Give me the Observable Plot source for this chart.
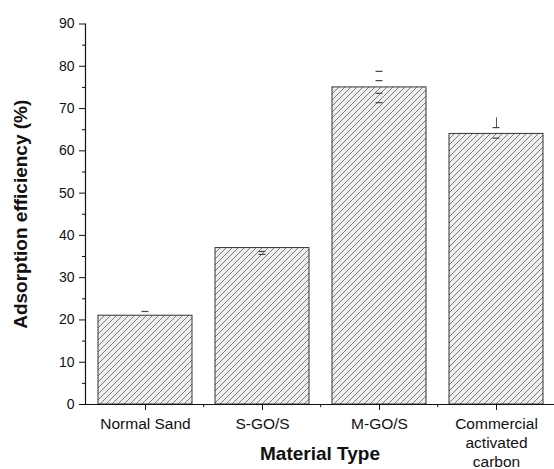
<!DOCTYPE html>
<html>
<head>
<meta charset="utf-8">
<script src="https://cdn.jsdelivr.net/npm/d3@7"></script>
<script src="https://cdn.jsdelivr.net/npm/@observablehq/plot@0.6"></script>
<style>
  html, body { margin: 0; padding: 0; background: #fff; }
  svg { display: block; }
</style>
</head>
<body>
<div id="chart"></div>
<script>
// ---- data ----
const categories = ["Normal Sand", "S-GO/S", "M-GO/S", "Commercial\nactivated\ncarbon"];
const values = [21, 37, 75, 64];
// error-bar cap positions
const capCategory = ["Normal Sand", "S-GO/S", "S-GO/S", "M-GO/S", "M-GO/S", "M-GO/S", "M-GO/S", "Commercial\nactivated\ncarbon", "Commercial\nactivated\ncarbon"];
const capValue = [22, 36.2, 35.5, 78.8, 76.6, 73.6, 71.4, 65.5, 63];
const whiskerCategory = ["Commercial\nactivated\ncarbon"];
const whiskerLow = [65.5];
const whiskerHigh = [67.8];
const yMajorTicks = [0, 10, 20, 30, 40, 50, 60, 70, 80, 90];
const yMinorTicks = [5, 15, 25, 35, 45, 55, 65, 75, 85];
const xLabel = "Material Type";
const yLabel = "Adsorption efficiency (%)";

const bars = categories.map((c, i) => ({cat: c, v: values[i]}));
const caps = capCategory.map((c, i) => ({cat: c, v: capValue[i]}));
const whiskers = whiskerCategory.map((c, i) => ({cat: c, lo: whiskerLow[i], hi: whiskerHigh[i]}));

const W = 554, H = 469;
const mL = 85, mT = 23.5, mB = 65;
const xRange = [mL, 555.5];
const step = (xRange[1] - xRange[0]) / categories.length;
const bandwidth = step * 0.8;
const capW = 7;
const font = "'Liberation Sans', Arial, sans-serif";

const plot = Plot.plot({
  width: W,
  height: H,
  marginLeft: mL,
  marginRight: 0,
  marginTop: mT,
  marginBottom: mB,
  style: {fontFamily: font, background: "#fff", color: "#111"},
  x: {domain: categories, range: xRange, paddingInner: 0.2, paddingOuter: 0.1, axis: null},
  y: {domain: [0, 90], axis: null},
  marks: [
    Plot.barY(bars, {x: "cat", y: "v", fill: "url(#hatch)", stroke: "#333", strokeWidth: 1}),
    Plot.tickY(caps, {x: "cat", y: "v", stroke: "#444", strokeWidth: 1.2,
      insetLeft: (bandwidth - capW) / 2, insetRight: (bandwidth - capW) / 2}),
    Plot.ruleX(whiskers, {x: "cat", y1: "lo", y2: "hi", stroke: "#555", strokeWidth: 1}),
    // axes
    Plot.axisY({ticks: yMajorTicks, tickSize: 6, tickPadding: 5, fontSize: 14, label: null, stroke: "#111"}),
    Plot.axisY({ticks: yMinorTicks, tickSize: 3, text: null, label: null}),
    Plot.axisX({tickSize: 6, tickPadding: 5, fontSize: 15.5, lineHeight: 1.22, label: null}),
    Plot.ruleX(categories.slice(1), {x: d => d, dx: -step / 2, y1: 0, y2: -0.75, stroke: "#111", clip: false}),
    Plot.ruleY([0], {stroke: "#111", strokeWidth: 1.2}),
    Plot.frame({anchor: "left", stroke: "#111", strokeWidth: 1.2}),
    Plot.text([yLabel], {frameAnchor: "left", textAnchor: "middle", lineAnchor: "middle", rotate: -90, dx: -65, fontSize: 19, fontWeight: "bold", fill: "#111"}),
    Plot.text([xLabel], {frameAnchor: "bottom", lineAnchor: "middle", dy: 49, fontSize: 19, fontWeight: "bold", fill: "#111"})
  ]
});

d3.select(plot).insert("defs", ":first-child").html(`
  <pattern id="hatch" patternUnits="userSpaceOnUse" width="6" height="6">
    <rect width="6" height="6" fill="#efefef"></rect>
    <path d="M0,6 L6,0 M-1,1 L1,-1 M5,7 L7,5" stroke="#5e5e5e" stroke-width="0.8"></path>
  </pattern>`);

document.getElementById("chart").appendChild(plot);
</script>
</body>
</html>
